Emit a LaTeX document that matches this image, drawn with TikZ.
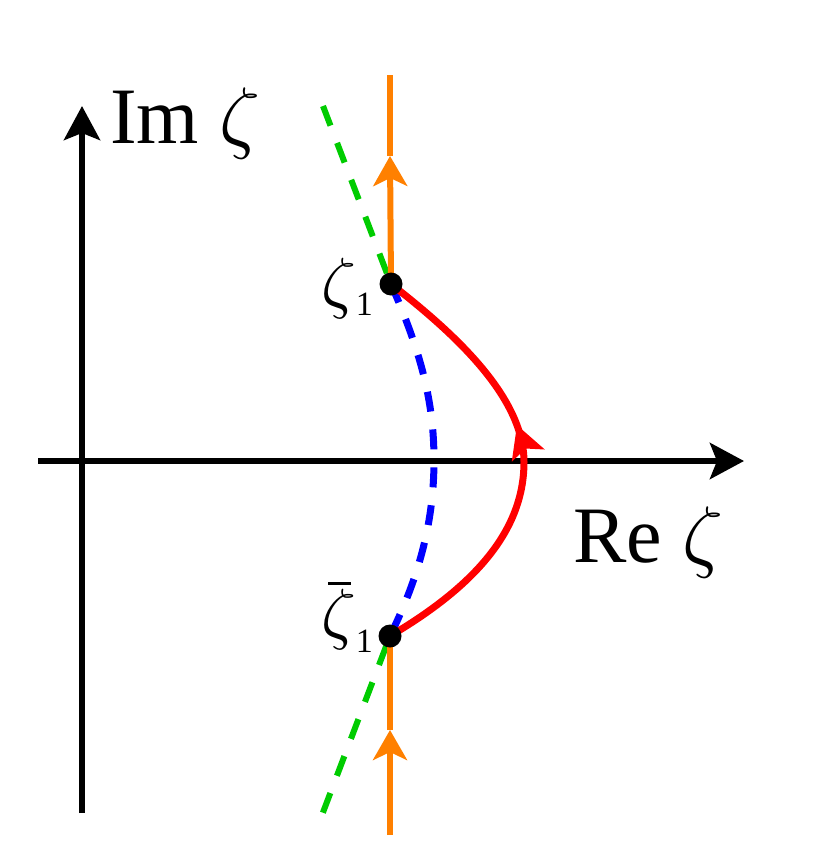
\documentclass[tikz,border=0pt]{standalone}
\usepackage{fontspec}
\setmainfont{Liberation Serif}
\DeclareFontShape{OML}{cmm}{m}{it}{<->cmmi10}{}
\usetikzlibrary{arrows.meta,decorations.markings}
\definecolor{cgreen}{RGB}{0,204,0}
\definecolor{cblue}{RGB}{0,0,255}
\definecolor{cred}{RGB}{255,0,0}
\definecolor{corange}{RGB}{255,128,0}
\tikzset{
  axis/.style={line width=6pt,black},
  bigtip/.style={-{Stealth[length=34pt,width=36pt,inset=7pt]}},
  ortip/.style={-{Stealth[length=30pt,width=34pt,inset=8pt]}},
  orline/.style={line width=6pt,corange},
  greenline/.style={line width=6pt,cgreen,dash pattern=on 21pt off 18.5pt},
  blueline/.style={line width=7pt,cblue,dash pattern=on 20pt off 18pt},
  redline/.style={line width=7pt,cred},
  pt/.style={circle,fill=black,inner sep=0pt,minimum size=23pt},
  biglabel/.style={font=\fontsize{80}{96}\selectfont,inner sep=0pt},
  midlabel/.style={font=\fontsize{68}{80}\selectfont,inner sep=0pt}
}
\newcommand{\subone}{\fontsize{34}{34}\selectfont 1}
\begin{document}
\begin{tikzpicture}[x=1pt,y=-1pt]
\useasboundingbox (0,0) rectangle (830,846);
% coordinates
\coordinate (z1) at (391,284);
\coordinate (zb) at (390,636);
\coordinate (xa) at (38,461);
\coordinate (xb) at (744,461);
\coordinate (ya) at (82,813);
\coordinate (yb) at (82,106);
\coordinate (otop) at (390,75);
\coordinate (oua) at (390,156);
\coordinate (obot) at (390,835);
\coordinate (oda) at (390,730);
\coordinate (gtop) at (323,106);
\coordinate (gbot) at (322,815);
\coordinate (rm) at (524,462);
% axes
\draw[axis,bigtip] (xa) -- (xb);
\draw[axis,bigtip] (ya) -- (yb);
% green dashed
\draw[greenline] (gtop) -- (z1);
\draw[greenline,dash phase=29.5pt] (zb) -- (gbot);
% blue dashed
\draw[blueline] (z1) .. controls (420,350) and (434,400) .. (434,460)
  .. controls (434,520) and (420,575) .. (zb);
% orange
\draw[orline,ortip] (z1) -- (oua);
\draw[orline] (oua) -- (otop);
\draw[orline,ortip] (obot) -- (oda);
\draw[orline] (oda) -- (zb);
% red
\draw[redline,postaction={decorate},decoration={markings,mark=at position 268pt with {\arrow{Stealth[length=32pt,width=34pt,inset=7pt]}}}]
  (zb) .. controls (468,590) and (524,535) .. (rm)
  .. controls (524,395) and (450,330) .. (z1);
% points
\node[pt] (p1) at (z1) {};
\node[pt] (p2) at (zb) {};
% labels
\node[biglabel,anchor=base west] (imlab) at (110,143) {Im $\zeta$};
\node[biglabel,anchor=base west] (relab) at (573,562) {Re $\zeta$};
\node[midlabel,anchor=base west] (l1) at (321,305) {$\zeta$\raisebox{-10pt}{\subone}};
\node[midlabel,anchor=base west] (l2) at (321,636) {\makebox[0pt][l]{\hspace{7pt}\raisebox{51pt}{\rule{23pt}{3.5pt}}}$\zeta$\raisebox{-16pt}{\subone}};
\end{tikzpicture}
\end{document}
